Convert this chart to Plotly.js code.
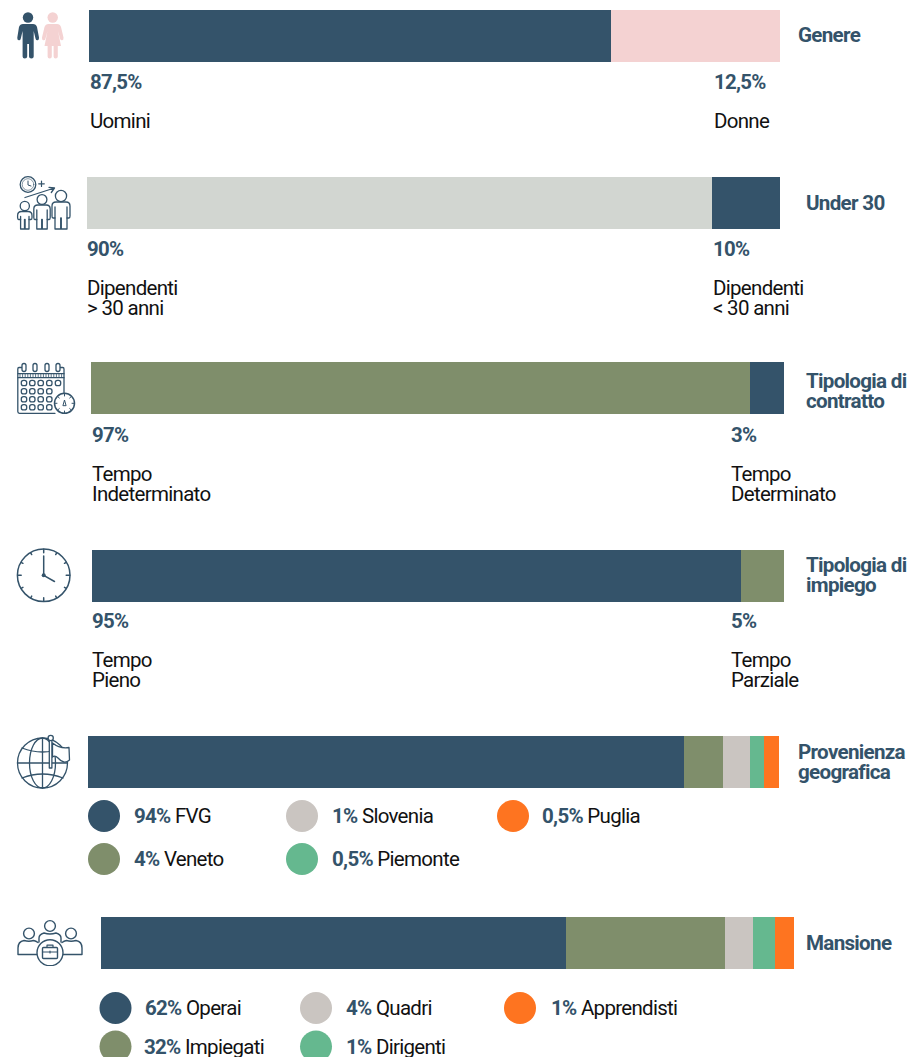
<!DOCTYPE html>
<html>
<head>
<meta charset="utf-8">
<script src="https://cdn.plot.ly/plotly-3.0.1.min.js"></script>
<style>
html,body{margin:0;padding:0;background:#fff;}
#chart{width:911px;height:1057px;}
.annotation-text{letter-spacing:-0.7px;}
</style>
</head>
<body>
<div id="chart"></div>
<script>
// Segment shares as drawn in the picture (percent of each bar's length)
const genereShares = [75.5, 24.5];
const under30Shares = [90.2, 9.8];
const contrattoShares = [95.1, 4.9];
const impiegoShares = [93.8, 6.2];
const provenienzaShares = [86.3, 5.6, 3.9, 2.0, 2.2];
const mansioneShares = [67.1, 22.9, 4.1, 3.2, 2.7];

// Printed labels
const genereLabels = ["87,5%", "12,5%"];
const genereNames = [["Uomini"], ["Donne"]];
const under30Labels = ["90%", "10%"];
const under30Names = [["Dipendenti", "> 30 anni"], ["Dipendenti", "< 30 anni"]];
const contrattoLabels = ["97%", "3%"];
const contrattoNames = [["Tempo", "Indeterminato"], ["Tempo", "Determinato"]];
const impiegoLabels = ["95%", "5%"];
const impiegoNames = [["Tempo", "Pieno"], ["Tempo", "Parziale"]];
const provenienzaLegend = [["94%", "FVG"], ["1%", "Slovenia"], ["0,5%", "Puglia"], ["4%", "Veneto"], ["0,5%", "Piemonte"]];
const mansioneLegend = [["62%", "Operai"], ["4%", "Quadri"], ["1%", "Apprendisti"], ["32%", "Impiegati"], ["1%", "Dirigenti"]];

const DARK = "#34536A", PINK = "#F4D2D2", SAGE = "#D2D6D1", OLIVE = "#7F8E6B",
      STONE = "#CAC5C1", GREEN = "#65B88F", ORANGE = "#FE7420";

const W = 911, H = 1057;
const fx = p => p / W, fy = p => 1 - p / H;

const rows = [
  {shares: genereShares, colors: [DARK, PINK], x0: 89, x1: 780, y0: 10, y1: 62},
  {shares: under30Shares, colors: [SAGE, DARK], x0: 87, x1: 780, y0: 177, y1: 229},
  {shares: contrattoShares, colors: [OLIVE, DARK], x0: 91, x1: 784, y0: 362, y1: 414},
  {shares: impiegoShares, colors: [DARK, OLIVE], x0: 92, x1: 784, y0: 550, y1: 602},
  {shares: provenienzaShares, colors: [DARK, OLIVE, STONE, GREEN, ORANGE], x0: 88, x1: 779, y0: 736, y1: 788},
  {shares: mansioneShares, colors: [DARK, OLIVE, STONE, GREEN, ORANGE], x0: 101, x1: 794, y0: 917, y1: 969}
];

const traces = [];
const layout = {
  width: W, height: H, margin: {l: 0, r: 0, t: 0, b: 0},
  paper_bgcolor: "#fff", plot_bgcolor: "#fff",
  showlegend: false, barmode: "stack", bargap: 0,
  font: {family: "Roboto, sans-serif"},
  annotations: [], shapes: [], images: []
};

rows.forEach((r, i) => {
  const n = i === 0 ? "" : String(i + 1);
  layout["xaxis" + n] = {domain: [fx(r.x0), fx(r.x1)], range: [0, 100], visible: false, fixedrange: true, anchor: "y" + n};
  layout["yaxis" + n] = {domain: [fy(r.y1), fy(r.y0)], range: [-0.5, 0.5], visible: false, fixedrange: true, anchor: "x" + n};
  r.shares.forEach((v, j) => traces.push({
    type: "bar", orientation: "h", x: [v], y: [0], width: 1,
    xaxis: "x" + n, yaxis: "y" + n,
    marker: {color: r.colors[j], line: {width: 0}}, hoverinfo: "skip"
  }));
});

function txt(text, x, y, size, color, bold) {
  layout.annotations.push({
    text: bold ? "<b>" + text + "</b>" : text,
    xref: "paper", yref: "paper", x: fx(x), y: fy(y),
    xanchor: "left", yanchor: "middle", showarrow: false, align: "left",
    borderpad: 0, borderwidth: 0,
    font: {family: "Roboto, sans-serif", size: size, color: color}
  });
}
const PCT = 20.4, NAME = 20.5, HEAD = 20.6;

// Percent labels + names beneath bars
[
  [genereLabels, genereNames, [90, 713.5], 82, 121, 20],
  [under30Labels, under30Names, [87, 712.5], 249.5, 287.5, 20.5],
  [contrattoLabels, contrattoNames, [92, 730.5], 435, 474, 20],
  [impiegoLabels, impiegoNames, [92, 730.5], 621, 660, 20]
].forEach(([labels, names, xs, yPct, yName, step]) => {
  labels.forEach((t, i) => {
    txt(t, xs[i], yPct, PCT, DARK, true);
    names[i].forEach((line, k) => txt(line, xs[i], yName + k * step, NAME, "#111111", false));
  });
});

// Right-hand headings
[
  [["Genere"], 798, 35],
  [["Under 30"], 806, 203],
  [["Tipologia di", "contratto"], 806, 381],
  [["Tipologia di", "impiego"], 806, 565],
  [["Provenienza", "geografica"], 798, 752],
  [["Mansione"], 806, 943]
].forEach(([lines, x, y]) => lines.forEach((l, k) => txt(l, x, y + k * 20, HEAD, DARK, true)));

// Legends
function dot(cx, cy, color) {
  const r = 16;
  layout.shapes.push({type: "circle", xref: "paper", yref: "paper",
    x0: fx(cx - r), x1: fx(cx + r), y0: fy(cy + r), y1: fy(cy - r),
    fillcolor: color, line: {width: 0}});
}
function legend(items, colors, pos) {
  items.forEach((it, i) => {
    const [cx, cy, tx] = pos[i];
    dot(cx, cy, colors[i]);
    txt('<span style="color:' + DARK + '"><b>' + it[0] + '</b></span> ' + it[1], tx, cy, NAME, "#111111", false);
  });
}
legend(provenienzaLegend, [DARK, STONE, ORANGE, OLIVE, GREEN],
  [[104, 816, 134], [302, 816, 332], [513, 816, 541.5], [104, 859, 133.5], [302, 859, 332]]);
legend(mansioneLegend, [DARK, STONE, ORANGE, OLIVE, GREEN],
  [[115.5, 1008, 145], [316, 1008, 345.5], [520, 1008, 550.5], [115.5, 1046.5, 144], [316, 1046.5, 346]]);

// Icons: inline SVG images
function icon(x, y, w, h, body) {
  const svg = '<svg xmlns="http://www.w3.org/2000/svg" width="' + w * 3 + '" height="' + h * 3 + '" viewBox="' + [x, y, w, h].join(" ") + '">' + body + '</svg>';
  layout.images.push({
    source: "data:image/svg+xml;charset=utf-8," + encodeURIComponent(svg),
    xref: "paper", yref: "paper", x: fx(x), y: fy(y), sizex: w / W, sizey: h / H,
    xanchor: "left", yanchor: "top", sizing: "stretch", layer: "above"
  });
}
const S = 'fill="none" stroke="' + DARK + '" stroke-linecap="round" stroke-linejoin="round"';

// Genere
icon(14, 8, 54, 54,
  '<g fill="' + DARK + '"><circle cx="28" cy="17.5" r="5.2"/>' +
  '<path d="M23 24 H33 Q36 24 37 27 L39 37.5 Q39.3 40 37.6 40.3 Q36 40.6 35.5 38.5 L33.7 31 V56.5 Q33.7 58.5 31.4 58.5 Q29 58.5 29 56.5 V44 H27.2 V56.5 Q27.2 58.5 24.8 58.5 Q22.6 58.5 22.6 56.5 V31 L20.8 38.5 Q20.3 40.6 18.7 40.3 Q17 40 17.3 37.5 L19 27 Q20 24 23 24 Z"/></g>' +
  '<g fill="' + PINK + '"><circle cx="52.7" cy="17.5" r="5.2"/>' +
  '<path d="M48.5 24 H57 Q60 24 61 27 L63.5 37.5 Q63.8 40 62.2 40.3 Q60.6 40.6 60 38.5 L58 31 L61 46 H57.8 V56.5 Q57.8 58.5 55.6 58.5 Q53.6 58.5 53.6 56.5 V46 H51.8 V56.5 Q51.8 58.5 49.8 58.5 Q47.6 58.5 47.6 56.5 V46 H44.5 L47.5 31 L45.5 38.5 Q45 40.6 43.3 40.3 Q41.7 40 42 37.5 L44.5 27 Q45.5 24 48.5 24 Z"/></g>');

// Under 30
function kid(cx, hy, hr, top, half, armEnd, leg) {
  const hip = half - 3;
  return '<circle cx="' + cx + '" cy="' + hy + '" r="' + hr + '"/>' +
    '<path d="M' + (cx - hip) + ' ' + armEnd + ' H' + (cx - half + 1) + ' Q' + (cx - half) + ' ' + armEnd + ' ' + (cx - half) + ' ' + (armEnd - 2) +
    ' V' + (top + 4) + ' Q' + (cx - half) + ' ' + top + ' ' + (cx - half + 4) + ' ' + top + ' H' + (cx + half - 4) + ' Q' + (cx + half) + ' ' + top + ' ' + (cx + half) + ' ' + (top + 4) +
    ' V' + (armEnd - 2) + ' Q' + (cx + half) + ' ' + armEnd + ' ' + (cx + half - 1) + ' ' + armEnd + ' H' + (cx + hip) + '"/>' +
    '<path d="M' + (cx - hip) + ' ' + (top + 5) + ' V' + leg + ' H' + (cx - 0.3) + ' V' + armEnd + ' M' + (cx + 0.3) + ' ' + armEnd + ' V' + leg + ' H' + (cx + hip) + ' V' + (top + 5) + '"/>';
}
icon(14, 174, 60, 58,
  '<g ' + S + ' stroke-width="1.3">' +
  '<circle cx="28" cy="184.5" r="7.8"/><circle cx="28" cy="184.5" r="5.8" stroke-width="0.6"/><path d="M28 181 V185 L31 186" stroke-width="1"/>' +
  '<path d="M41.5 181 V186.5 M38.7 183.8 H44.3" stroke-width="1.2"/>' +
  '<path d="M25 197.5 L54.5 188 M49 187.3 L54.5 188 L51.3 192.5"/>' +
  kid(24.8, 206, 4.6, 211.5, 7.2, 219.5, 229) + kid(42, 199.5, 4.9, 205, 8.2, 219.5, 229) + kid(61, 196, 5.6, 202, 9, 218, 229) + '</g>');

// Contratto: calendar
(function () {
  const colX = [24, 32.3, 40.7, 49.3, 58], rowY = [383, 391.3, 399.3, 407.3];
  let c = '';
  rowY.forEach((y, r) => colX.forEach((x, k) => {
    if (r === 0 || k < 4) c += '<rect x="' + (x - 2.7) + '" y="' + (y - 2.6) + '" width="5.4" height="5.2" rx="2.2"/>';
  }));
  [24, 35, 47, 58].forEach(x => { c += '<rect x="' + (x - 2) + '" y="363.5" width="4" height="8" rx="2" fill="#fff"/>'; });
  let hatch = '';
  for (let x = 20; x < 64; x += 2.6) hatch += 'M' + x + ' 374 V377.5 ';
  icon(14, 360, 64, 58,
    '<g ' + S + ' stroke-width="1.3">' +
    '<path d="M22 367.5 H19 Q17.8 367.5 17.8 369 V411.5 Q17.8 413.3 19.5 413.3 H55 M64 392.5 V369 Q64 367.5 62.8 367.5 H60"/>' +
    '<path d="M18 373.7 H64 M18 377.7 H64"/><path d="' + hatch + '" stroke-width="0.8"/>' + c +
    '<circle cx="64.5" cy="403.3" r="10" fill="#fff" stroke-width="1.5"/><path d="M64.5 393.5 V396 M64.5 411 V413 M54.7 403.3 H57 M72 403.3 H74.2 M57.7 396.5 L59.3 398 M71.3 396.5 L69.7 398 M57.7 410 L59.3 408.6 M71.3 410 L69.7 408.6" stroke-width="1"/>' +
    '<path d="M63 405.3 L64.5 400 L66 405.3 Z" stroke-width="1"/></g>');
})();

// Impiego: clock
(function () {
  let t = '';
  [0, 30, 60, 90, 120, 150, 180, 210, 240, 270, 300, 330].forEach(a => {
    const r = a * Math.PI / 180, cx = 43.7, cy = 575.3, l = a % 90 === 0 ? 22.5 : 24;
    t += 'M' + (cx + 26 * Math.sin(r)).toFixed(2) + ' ' + (cy - 26 * Math.cos(r)).toFixed(2) + ' L' + (cx + l * Math.sin(r)).toFixed(2) + ' ' + (cy - l * Math.cos(r)).toFixed(2) + ' ';
  });
  icon(14, 545, 60, 60,
    '<g ' + S + ' stroke-width="1.5"><circle cx="43.7" cy="575.3" r="26.3"/><path d="' + t + '"/>' +
    '<path d="M43.7 556 V575.3 L54.5 581.5"/></g><circle cx="43.7" cy="575.3" r="2" fill="' + DARK + '"/>');
})();

// Provenienza: globe with flag
icon(14, 732, 60, 60,
  '<g ' + S + ' stroke-width="1.3"><circle cx="42.5" cy="763" r="25"/>' +
  '<ellipse cx="42.5" cy="763" rx="13" ry="25"/><path d="M42.5 738 V788 M17.5 763 H67.5"/>' +
  '<path d="M22 748 Q42.5 756 63 748 M22 778 Q42.5 770 63 778"/>' +
  '<path d="M52.5 743 Q60 749 69 747.5 L69.5 760 Q64 765 58 758 Q55 755 52.5 757 Z" fill="#fff"/>' +
  '<rect x="49.3" y="740" width="2.6" height="28" fill="#fff"/><circle cx="50.7" cy="738" r="2.6" fill="#fff"/></g>');

// Mansione: team with briefcase
icon(14, 916, 72, 50,
  '<g ' + S + ' stroke-width="1.4">' +
  '<circle cx="29" cy="933.5" r="5.4"/><circle cx="71" cy="933.5" r="5.4"/><circle cx="50" cy="926" r="5.4"/>' +
  '<path d="M39 954.5 H18 V948 Q18 941.5 24 940.5 Q29 942 33.5 940.5 Q36 941 38 942.5"/>' +
  '<path d="M61 954.5 H82 V948 Q82 941.5 76 940.5 Q71 942 66.5 940.5 Q64 941 62 942.5"/>' +
  '<path d="M39 942 V938 Q39 934.5 44 933 Q50 935 56 933 Q61 934.5 61 938 V942"/>' +
  '<circle cx="50" cy="952.7" r="13" fill="#fff"/>' +
  '<rect x="42.5" y="947.5" width="15" height="11" rx="1"/><path d="M47 947.5 V945.2 H53 V947.5 M42.5 952 H57.5 M50 951 V953" stroke-width="1.2"/></g>');

Plotly.newPlot("chart", traces, layout, {displayModeBar: false, staticPlot: true});
</script>
</body>
</html>
